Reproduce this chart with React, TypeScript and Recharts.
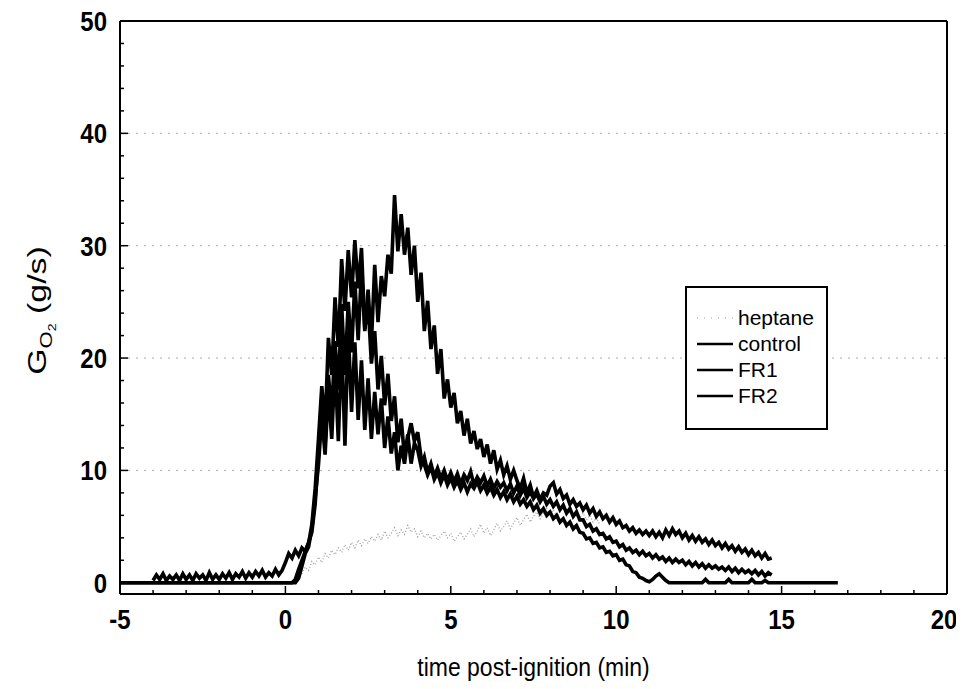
import React from 'react';
import { LineChart, Line, XAxis, YAxis, ReferenceLine, Legend } from 'recharts';

// sampling step of all traces (min)
const STEP = 0.1;

// control: starts at -4 min
const controlStart = -4.0;
const controlValues = [
  0.2, 0.7, 0.3, 0.8, 0.2, 0.6, 0.3, 0.7, 0.2, 0.8,
  0.3, 0.7, 0.2, 0.8, 0.4, 0.7, 0.2, 0.9, 0.3, 0.7,
  0.3, 0.8, 0.4, 0.9, 0.3, 0.8, 0.5, 1.0, 0.4, 0.9,
  0.5, 1.0, 0.6, 1.1, 0.5, 0.9, 0.6, 1.2, 0.7, 1.1,
  1.8, 2.6, 2.2, 2.9, 2.4, 3.1, 2.8, 3.6, 4.5, 7.0,
  11.5, 15.8, 12.2, 18.5, 15.0, 21.5, 17.2, 24.8, 18.5, 25.0,
  20.5, 26.8, 21.6, 27.9, 22.4, 26.1, 21.3, 28.3, 23.2, 27.3,
  25.5, 29.2, 27.5, 34.5, 29.5, 32.8, 29.2, 31.6, 27.4, 30.0,
  25.0, 27.6, 22.4, 25.1, 20.8, 22.9, 18.6, 20.8, 16.4, 18.1,
  15.6, 16.9, 14.2, 15.3, 13.1, 14.6, 12.4, 13.5, 11.9, 12.8,
  11.2, 12.3, 10.6, 11.8, 10.1, 10.9, 9.6, 10.4, 9.2, 10.0,
  9.1, 8.4, 9.3, 8.0, 8.7, 7.6, 8.2, 7.4, 8.0, 7.8,
  8.6, 8.9, 7.9, 8.3, 7.5, 7.8, 7.0, 7.4, 6.8, 7.1,
  6.5, 6.9, 6.2, 6.6, 5.9, 6.3, 5.7, 6.0, 5.4, 5.8,
  5.2, 5.5, 4.9, 5.1, 4.6, 4.9, 4.4, 4.7, 4.3, 4.6,
  4.2, 4.6, 4.1, 4.5, 4.0, 4.7, 4.2, 4.8, 4.3, 4.6,
  4.0, 4.4, 3.8, 4.2, 3.7, 4.1, 3.6, 3.9, 3.4, 3.8,
  3.3, 3.6, 3.1, 3.5, 3.0, 3.3, 2.8, 3.2, 2.7, 3.0,
  2.5, 2.9, 2.4, 2.7, 2.2, 2.6, 2.1, 2.2,
];

// FR1: starts at -5 min
const fr1Start = -5.0;
const fr1Values = [
  0, 0, 0, 0, 0, 0, 0, 0, 0, 0,
  0, 0, 0, 0, 0, 0, 0, 0, 0, 0,
  0, 0, 0, 0, 0, 0, 0, 0, 0, 0,
  0, 0, 0, 0, 0, 0, 0, 0, 0, 0,
  0, 0, 0, 0, 0, 0, 0, 0, 0, 0,
  0, 0, 0, 0.3, 1.2, 2.0, 2.8, 3.5, 5.2, 8.4,
  12.8, 17.5, 14.0, 21.8, 18.5, 25.4, 21.0, 28.8, 24.2, 29.6,
  25.4, 30.5, 26.2, 29.8, 22.6, 24.8, 19.5, 22.4, 17.2, 20.2,
  15.8, 18.6, 14.4, 16.6, 12.5, 14.6, 11.2, 13.2, 10.6, 12.4,
  11.8, 10.4, 11.2, 9.8, 10.6, 9.5, 10.2, 9.3, 10.0, 9.1,
  9.8, 9.0, 9.7, 8.8, 9.6, 9.1, 9.9, 8.7, 9.4, 8.9,
  9.5, 8.6, 9.2, 8.4, 9.0, 8.5, 8.9, 8.2, 8.8, 8.0,
  8.6, 7.8, 8.4, 7.6, 8.1, 7.5, 7.9, 7.2, 7.7, 7.0,
  7.4, 6.8, 7.2, 6.5, 6.9, 6.2, 6.6, 5.9, 6.3, 5.6,
  5.6, 5.0, 5.2, 4.6, 4.8, 4.3, 4.4, 3.9, 4.1, 3.6,
  3.7, 3.2, 3.4, 2.9, 3.1, 2.7, 2.9, 2.5, 2.8, 2.4,
  2.6, 2.2, 2.5, 2.1, 2.3, 1.9, 2.2, 1.8, 2.1, 1.8,
  2.0, 1.6, 1.9, 1.5, 1.8, 1.4, 1.7, 1.3, 1.6, 1.3,
  1.5, 1.2, 1.4, 1.1, 1.4, 1.0, 1.3, 0.9, 1.2, 0.9,
  1.1, 0.8, 1.1, 0.7, 1.0, 0.6, 0.9, 0.7,
];

// FR2: starts at -5 min, runs to 16.7 min
const fr2Start = -5.0;
const fr2Values = [
  0, 0, 0, 0, 0, 0, 0, 0, 0, 0,
  0, 0, 0, 0, 0, 0, 0, 0, 0, 0,
  0, 0, 0, 0, 0, 0, 0, 0, 0, 0,
  0, 0, 0, 0, 0, 0, 0, 0, 0, 0,
  0, 0, 0, 0, 0, 0, 0, 0, 0, 0,
  0, 0, 0, 0, 0.4, 1.5, 2.6, 3.2, 4.8, 7.6,
  10.5, 14.8, 11.4, 17.2, 12.8, 19.5, 12.6, 21.4, 12.2, 22.6,
  15.2, 21.4, 14.5, 19.8, 13.6, 18.2, 12.8, 17.0, 13.2, 16.4,
  12.0, 14.8, 11.5, 13.4, 10.0, 12.2, 10.6, 12.9, 14.2, 12.6,
  13.4, 11.2, 10.5, 9.6, 10.3, 9.2, 9.8, 8.9, 9.6, 8.7,
  9.3, 8.5, 9.1, 8.3, 8.9, 8.1, 8.8, 8.4, 9.0, 8.2,
  8.7, 8.0, 8.5, 7.8, 8.3, 7.6, 8.1, 7.4, 7.9, 7.2,
  7.7, 7.0, 7.4, 6.8, 7.2, 6.5, 6.9, 6.2, 6.6, 6.0,
  6.3, 5.7, 6.0, 5.4, 5.7, 5.1, 5.4, 4.8, 5.1, 4.5,
  4.4, 3.9, 4.0, 3.5, 3.6, 3.1, 3.2, 2.7, 2.8, 2.4,
  2.5, 2.0, 2.1, 1.6, 1.5, 1.0, 0.9, 0.5, 0.4, 0.2,
  0.1, 0.3, 0.6, 0.8, 0.5, 0.2, 0, 0, 0, 0,
  0, 0, 0, 0, 0, 0, 0, 0.3, 0, 0,
  0, 0, 0, 0, 0.3, 0, 0, 0, 0, 0,
  0, 0.3, 0, 0, 0, 0.2, 0, 0, 0, 0,
  0, 0, 0, 0, 0, 0, 0, 0, 0, 0,
  0, 0, 0, 0, 0, 0, 0, 0,
];

// heptane: 0.5 to 9.5 min
const heptaneStart = 0.5;
const heptaneValues = [
  0.8, 1.4, 1.1, 1.9, 1.6, 2.3, 1.8, 2.6, 2.2, 2.9,
  2.5, 3.1, 2.7, 3.4, 2.9, 3.6, 3.1, 3.8, 3.3, 3.9,
  3.5, 4.1, 3.7, 4.3, 3.8, 4.6, 4.0, 4.4, 4.9, 4.2,
  4.7, 4.3, 5.1, 4.5, 4.8, 4.1, 4.6, 4.0, 4.4, 3.9,
  4.3, 3.8, 4.2, 4.6, 4.0, 4.4, 3.7, 4.1, 4.5, 3.9,
  4.3, 4.8, 4.1, 4.6, 5.2, 4.4, 4.9, 4.2, 4.7, 5.3,
  4.6, 5.0, 5.5, 4.8, 5.3, 5.8, 5.1, 5.6, 6.1, 5.4,
  5.9, 6.3, 5.7, 6.2, 6.6, 6.0, 6.5, 5.9, 6.3, 6.8,
  6.2, 6.6, 6.0, 6.4, 5.8, 6.2, 5.6, 6.0, 5.4, 5.8, 5.2,
];

const xTicks = [-5, -4, -3, -2, -1, 0, 1, 2, 3, 4, 5, 6, 7, 8, 9, 10, 11, 12, 13, 14, 15, 16, 17, 18, 19, 20];
const yTicks = [0, 2, 4, 6, 8, 10, 12, 14, 16, 18, 20, 22, 24, 26, 28, 30, 32, 34, 36, 38, 40, 42, 44, 46, 48, 50];
const gridValues = [10, 20, 30, 40];
const legendNames = ['heptane', 'control', 'FR1', 'FR2'];

const toPoints = (start: number, values: number[]) =>
  values.map((v, i) => ({ t: Math.round((start + i * STEP) * 10) / 10, v }));

const controlData = toPoints(controlStart, controlValues);
const fr1Data = toPoints(fr1Start, fr1Values);
const fr2Data = toPoints(fr2Start, fr2Values);
const heptaneData = toPoints(heptaneStart, heptaneValues);

const FONT = '"Liberation Sans", Arial, sans-serif';
const HEPTANE_COLOR = '#a0a0a0';
const LINE_W = 3.6;

const XTick = (props: any) => {
  const { x, y, payload } = props;
  const major = payload.value % 5 === 0;
  return (
    <g>
      <line x1={x} x2={x} y1={y} y2={y - (major ? 8 : 4)} stroke="#000" strokeWidth={1.5} />
      {major && (
        <text
          transform={`translate(${payload.value === 20 ? x - 3 : x}, ${y + 35}) scale(1, 1.15)`}
          textAnchor="middle"
          fontFamily={FONT}
          fontSize={24}
          fontWeight="bold"
          fill="#000"
        >
          {payload.value}
        </text>
      )}
    </g>
  );
};

const YTick = (props: any) => {
  const { x, y, payload } = props;
  const major = payload.value % 10 === 0;
  return (
    <g>
      <line x1={x} x2={x + (major ? 8 : 4)} y1={y} y2={y} stroke="#000" strokeWidth={1.5} />
      {major && (
        <text
          transform={`translate(${x - 13}, ${y + 10}) scale(1, 1.15)`}
          textAnchor="end"
          fontFamily={FONT}
          fontSize={24}
          fontWeight="bold"
          fill="#000"
        >
          {payload.value}
        </text>
      )}
    </g>
  );
};

const XTitle = (props: any) => {
  const { x, y, width } = props.viewBox;
  return (
    <text
      transform={`translate(${x + width / 2}, ${y + 82}) scale(1, 1.12)`}
      textAnchor="middle"
      fontFamily={FONT}
      fontSize={23}
      fill="#000"
    >
      time post-ignition (min)
    </text>
  );
};

const YTitle = (props: any) => {
  const { y, height } = props.viewBox;
  const cx = 38;
  const cy = y + height / 2 + 3;
  return (
    <text
      transform={`translate(${cx}, ${cy}) rotate(-90) scale(1.3, 1)`}
      textAnchor="middle"
      fontFamily={FONT}
      fontSize={26}
      fill="#000"
    >
      G
      <tspan fontSize={17} dy={6}>O</tspan>
      <tspan fontSize={11} dy={4}>2</tspan>
      <tspan fontSize={26} dy={-10}> (g/s)</tspan>
    </text>
  );
};

const LegendBox = () => (
  <div
    style={{
      border: '2px solid #000',
      width: 143,
      height: 144,
      boxSizing: 'border-box',
      background: '#fff',
      fontFamily: FONT,
      fontSize: 21,
      paddingTop: 17,
    }}
  >
    {legendNames.map((name, i) => (
      <div key={name} style={{ display: 'flex', alignItems: 'center', height: 26 }}>
        <svg width={41} height={10} style={{ marginLeft: 10, flexShrink: 0 }}>
          <line
            x1={0}
            x2={36}
            y1={5}
            y2={5}
            stroke={i === 0 ? HEPTANE_COLOR : '#000'}
            strokeWidth={i === 0 ? 1 : 2.5}
            strokeDasharray={i === 0 ? '1 6' : undefined}
          />
        </svg>
        <span style={{ lineHeight: '26px', whiteSpace: 'nowrap' }}>{name}</span>
      </div>
    ))}
  </div>
);

export default function App() {
  return (
    <>
      <style>{'.recharts-surface { overflow: visible; }'}</style>
      <LineChart width={956} height={673} margin={{ top: 13, right: 17, bottom: 0, left: 0 }}>
        <XAxis
          dataKey="t"
          type="number"
          domain={[-5, 20]}
          ticks={xTicks}
          interval={0}
          allowDataOverflow
          tickSize={0}
          tickMargin={0}
          tickLine={false}
          tick={<XTick />}
          axisLine={{ stroke: '#000', strokeWidth: 2 }}
          height={87}
          label={<XTitle />}
        />
        <YAxis
          type="number"
          domain={[-1, 50]}
          ticks={yTicks}
          interval={0}
          allowDataOverflow
          tickSize={0}
          tickMargin={0}
          tickLine={false}
          tick={<YTick />}
          axisLine={{ stroke: '#000', strokeWidth: 2 }}
          width={112}
          label={<YTitle />}
        />
        {gridValues.map((g) => (
          <ReferenceLine key={g} y={g} stroke="#aaaaaa" strokeWidth={1} strokeDasharray="2 6" />
        ))}
        <ReferenceLine y={50} stroke="#000" strokeWidth={2} />
        <ReferenceLine x={20} stroke="#000" strokeWidth={2} />
        <Legend
          layout="vertical"
          align="center"
          verticalAlign="middle"
          content={<LegendBox />}
          wrapperStyle={{ left: 677, top: 278, width: 143, height: 144 }}
        />
        <Line data={heptaneData} dataKey="v" name="heptane" stroke={HEPTANE_COLOR} strokeWidth={1.3} strokeDasharray="1 2" dot={false} activeDot={false} isAnimationActive={false} />
        <Line data={fr2Data} dataKey="v" name="FR2" stroke="#000" strokeWidth={LINE_W} dot={false} activeDot={false} isAnimationActive={false} />
        <Line data={fr1Data} dataKey="v" name="FR1" stroke="#000" strokeWidth={LINE_W} dot={false} activeDot={false} isAnimationActive={false} />
        <Line data={controlData} dataKey="v" name="control" stroke="#000" strokeWidth={LINE_W} dot={false} activeDot={false} isAnimationActive={false} />
      </LineChart>
    </>
  );
}
